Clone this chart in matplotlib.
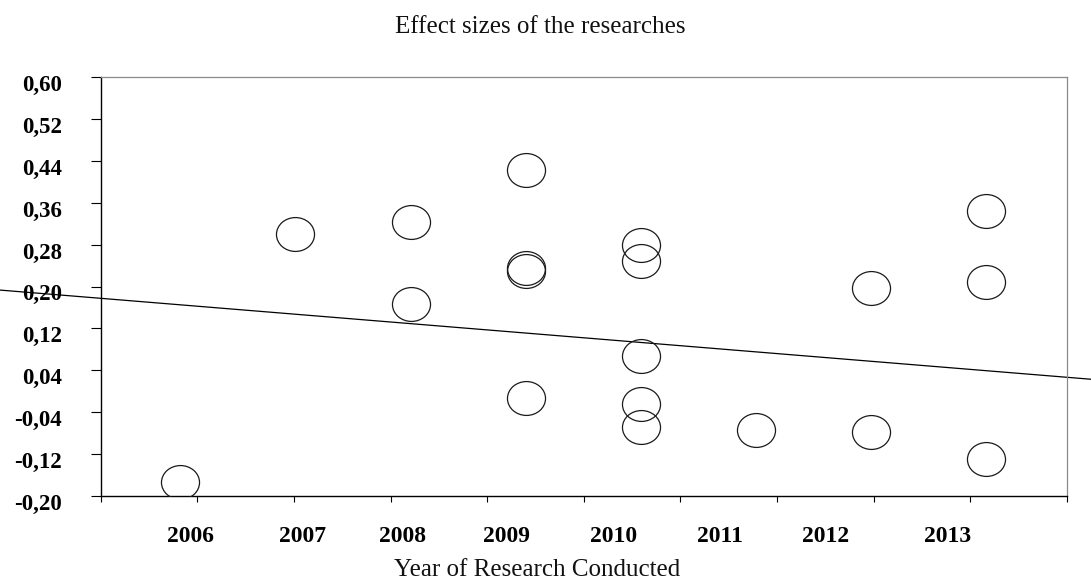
import numpy as np
import matplotlib
matplotlib.use("Agg")
import matplotlib.pyplot as plt
from matplotlib.path import Path
from matplotlib.transforms import ScaledTranslation, blended_transform_factory

# Effect size of each study, by the year the research was conducted
study_years = [2006, 2007, 2008, 2008, 2009, 2009, 2009, 2009,
               2010, 2010, 2010, 2010, 2010, 2011, 2012, 2012,
               2013, 2013, 2013]
effect_sizes = [-0.174, 0.300, 0.323, 0.166, 0.423, 0.236, 0.229, -0.014,
                0.279, 0.248, 0.068, -0.025, -0.069, -0.075, 0.198, -0.078,
                0.344, 0.209, -0.129]

# Trend line: value at 2006 and change per year
trend_at_2006 = 0.165
trend_slope = -0.0180

year_labels = ["2006", "2007", "2008", "2009", "2010", "2011", "2012", "2013"]
y_tick_values = [0.60, 0.52, 0.44, 0.36, 0.28, 0.20, 0.12, 0.04, -0.04, -0.12, -0.20]
y_tick_labels = ["0,60", "0,52", "0,44", "0,36", "0,28", "0,20", "0,12", "0,04",
                 "-0,04", "-0,12", "-0,20"]

# Layout
year_label_pos = [2006.09, 2007.06, 2007.93, 2008.83, 2009.76, 2010.69, 2011.60, 2012.66]
x_range = (2005.31, 2013.70)
W, H, DPI = 1091, 582, 100
SERIF = ["Liberation Serif", "DejaVu Serif"]

fig = plt.figure(figsize=(W / DPI, H / DPI), dpi=DPI)
fig.patch.set_facecolor("white")
ax = fig.add_axes([100.7 / W, 1 - 495.7 / H, 966.3 / W, 418.4 / H])
ax.set_xlim(*x_range)
ax.set_ylim(-0.20, 0.60)

# Spines: dark on the value axes, grey on the frame
for side in ("left", "bottom"):
    ax.spines[side].set_color("black")
    ax.spines[side].set_linewidth(1.0)
for side in ("top", "right"):
    ax.spines[side].set_color("#8a8a8a")
    ax.spines[side].set_linewidth(0.9)

# Unlabelled tick marks along the year axis
ax.set_xticks(np.linspace(x_range[0], x_range[1], 11))
ax.set_xticklabels([])
ax.tick_params(axis="x", direction="out", length=4.3, width=0.8, color="black")

# Value axis ticks and labels
ax.set_yticks(y_tick_values)
ax.set_yticklabels(y_tick_labels, fontfamily=SERIF, fontweight="bold", fontsize=16.5)
ax.tick_params(axis="y", direction="out", length=7.2, width=0.8, color="black", pad=20.5)
for lbl in ax.get_yticklabels():
    lbl.set_va("top")
    lbl.set_transform(lbl.get_transform() + ScaledTranslation(0, 1.5 / 72, fig.dpi_scale_trans))

# Year labels under the axis
lab_tr = blended_transform_factory(ax.transData, fig.transFigure)
for pos, txt in zip(year_label_pos, year_labels):
    ax.text(pos, 40.3 / H, txt, transform=lab_tr, ha="center", va="baseline",
            fontfamily=SERIF, fontweight="bold", fontsize=17, clip_on=False)

# Hollow elliptical markers
circ = Path.unit_circle()
ellipse = Path(circ.vertices * np.array([1.0, 0.89]), circ.codes)
ax.plot(study_years, effect_sizes, linestyle="none", marker=ellipse,
        markersize=27.4, markerfacecolor="none", markeredgecolor="#1a1a1a",
        markeredgewidth=0.9, zorder=3)

# Trend line spanning the full figure width
inv = ax.transData.inverted()
x_left = inv.transform((0, 0))[0]
x_right = inv.transform((W, 0))[0]
tx = np.array([x_left, x_right])
ty = trend_at_2006 + trend_slope * (tx - 2006)
ax.plot(tx, ty, color="black", linewidth=0.9, clip_on=False, zorder=2)

# Titles
fig.text(540 / W, 1 - 33 / H, "Effect sizes of the researches", ha="center",
         va="baseline", fontfamily=SERIF, fontsize=18, color="#111111")
fig.text(537 / W, 1.0 / H, "Year of Research Conducted", ha="center",
         va="bottom", fontfamily=SERIF, fontsize=18, color="#111111")

fig.savefig("out.png", dpi=DPI, facecolor="white")
